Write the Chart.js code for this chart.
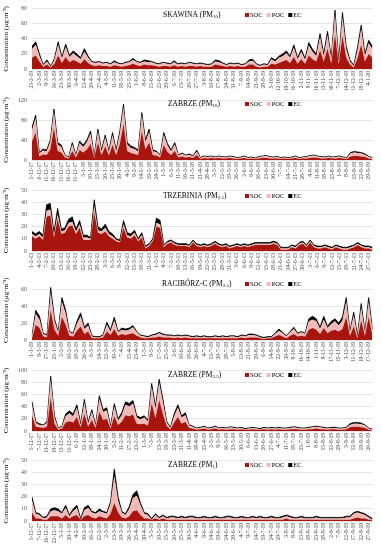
<!DOCTYPE html>
<html>
<head>
<meta charset="utf-8">
<script src="https://cdn.jsdelivr.net/npm/chart.js@4.4.1/dist/chart.umd.min.js"></script>
<style>
  html, body { margin: 0; padding: 0; background: #fff; }
  body { width: 381px; height: 550px; position: relative; overflow: hidden; }
  .panel { position: absolute; left: 0; width: 381px; }
</style>
</head>
<body>
<div class="panel" style="top:0px;height:90px"><canvas id="p1"></canvas></div>
<div class="panel" style="top:91px;height:90px"><canvas id="p2"></canvas></div>
<div class="panel" style="top:181px;height:91px"><canvas id="p3"></canvas></div>
<div class="panel" style="top:272px;height:89px"><canvas id="p4"></canvas></div>
<div class="panel" style="top:361px;height:91px"><canvas id="p5"></canvas></div>
<div class="panel" style="top:452px;height:92px"><canvas id="p6"></canvas></div>
<script>
// --- SKAWINA (PM10) ---
const skawinaTicks = ['23-2-19','2-3-19','9-3-19','16-3-19','23-3-19','30-3-19','6-4-19','13-4-19','20-4-19','27-4-19',
  '4-5-19','11-5-19','18-5-19','25-5-19','1-6-19','8-6-19','15-6-19','22-6-19','29-6-19','6-7-19',
  '13-7-19','20-7-19','27-7-19','3-8-19','10-8-19','17-8-19','24-8-19','31-8-19','7-9-19','14-9-19',
  '21-9-19','28-9-19','5-10-19','12-10-19','19-10-19','26-10-19','2-11-19','9-11-19','16-11-19','23-11-19',
  '30-11-19','7-12-19','14-12-19','21-12-19','28-12-19','4-1-20'];
const skawinaSOC = [15,18,10,3,6,2,7,18,8,16, 9,12,10,7,13,8,5,4,5,4, 4,3,5,4,3,4,5,7,5,4, 6,5,5,4,3,4,4,3,5,3,
  4,3,4,4,3,4,3,3,3,6, 5,4,3,4,3,4,3,3,6,6, 3,2,3,3,7,6,8,10,12,8, 16,7,13,7,18,13,10,25,10,27, 7,46,6,44,15,6,2,14,32,10, 20,15];
const skawinaPOC = [11,14,7,2,4,1,5,14,6,13, 7,9,7,6,10,7,4,4,4,3, 4,3,4,3,3,4,4,5,4,4, 4,4,4,3,3,4,3,3,4,3,
  3,3,4,3,3,3,3,2,3,4, 4,3,2,3,3,3,2,3,4,5, 3,2,3,2,6,4,7,7,9,7, 12,6,10,5,13,10,7,17,7,18, 6,26,4,25,11,4,2,10,21,7, 14,11];
const skawinaEC = [4,4,3,1,2,1,2,4,2,4, 2,3,3,2,4,2,1,1,1,1, 1,1,2,1,1,1,1,2,1,1, 2,2,1,1,1,1,1,1,2,1,
  1,1,1,1,1,1,1,1,1,2, 2,1,1,1,1,1,1,1,2,2, 1,1,1,1,2,2,2,3,3,2, 4,2,3,2,4,3,3,5,3,5, 2,6,2,6,4,2,1,4,5,3, 4,4];

// --- ZABRZE (PM10) ---
const zabrze10Ticks = ['1-12-17','6-12-17','11-12-17','16-12-17','21-12-17','26-12-17','31-12-17','5-1-18','10-1-18','15-1-18',
  '20-1-18','25-1-18','30-1-18','4-2-18','9-2-18','14-2-18','19-2-18','24-2-18','1-3-18','6-3-18',
  '11-3-18','16-3-18','21-3-18','21-4-19','28-4-19','5-5-19','12-5-19','19-5-19','26-5-19','2-6-19',
  '9-6-19','16-6-19','23-6-19','30-6-19','7-7-19','14-7-19','21-7-19','28-7-19','4-8-19','11-8-19',
  '18-8-19','25-8-19','1-9-19','8-9-19','15-9-19','22-9-19','29-9-19'];
const zabrze10SOC = [37,55,7,11,10,21,64,18,15,5, 3,18,5,20,15,21,32,4,35,10, 27,9,30,10,32,72,18,14,12,10, 58,21,35,10,9,5,30,16,10,18,
  5,7,5,6,4,10,2,4,3,4, 3,4,3,3,4,3,2,3,4,2, 3,2,3,4,4,3,3,3,2,3, 2,3,4,2,3,3,4,5,4,3, 3,4,3,3,4,3,2,7,8,8, 7,6,3,2];
const zabrze10POC = [22,29,6,8,7,15,32,13,11,4, 2,13,4,14,11,15,21,3,21,7, 18,7,20,7,21,34,13,10,10,7, 31,15,21,7,7,4,20,13,7,13,
  4,5,4,4,3,7,2,3,3,3, 2,3,3,2,3,3,2,2,3,2, 2,1,3,3,4,3,2,3,2,2, 2,2,3,2,2,3,4,4,3,3, 2,3,2,3,3,2,2,6,7,6, 6,4,3,2];
const zabrze10EC = [6,6,2,3,3,4,6,4,4,1, 1,4,1,4,4,4,5,1,6,3, 5,2,5,3,5,6,4,4,3,3, 6,4,6,3,2,1,5,4,3,4,
  1,2,1,2,1,3,1,1,1,1, 1,1,1,1,1,1,1,1,1,1, 1,1,1,1,1,1,1,1,1,1, 1,1,1,1,1,1,1,1,1,1, 1,1,1,1,1,1,1,2,2,2, 2,2,1,1];

// --- TRZEBINIA (PM2.5) ---
const trzebiniaTicks = ['1-2-13','4-2-13','7-2-13','10-2-13','13-2-13','16-2-13','19-2-13','22-2-13','25-2-13','28-2-13',
  '3-3-13','6-3-13','9-3-13','12-3-13','15-3-13','18-3-13','21-3-13','1-5-13','4-5-13','7-5-13',
  '10-5-13','13-5-13','16-5-13','19-5-13','22-5-13','25-5-13','28-5-13','31-5-13','3-6-13','6-6-13',
  '9-6-13','12-6-13','15-6-13','18-6-13','21-6-13','24-6-13','27-6-13','30-6-13','3-7-13','6-7-13',
  '9-7-13','12-7-13','15-7-13','18-7-13','21-7-13','24-7-13','27-7-13'];
const trzebiniaSOC = [12,10,12,9,28,29,11,26,14,15, 20,21,14,19,9,9,9,32,15,14, 16,12,10,8,7,19,11,10,13,8, 11,2,4,8,20,19,3,6,7,5,
  4,4,4,3,7,4,3,4,3,4, 6,4,3,4,2,3,4,3,4,3, 4,5,5,5,5,5,6,5,1,1, 1,3,2,5,6,3,7,3,2,2, 3,2,1,3,2,1,1,2,3,5, 3,2,2,1];
const trzebiniaPOC = [2,2,2,2,5,5,2,4,2,2, 3,3,2,3,2,2,1,5,2,2, 3,2,2,1,1,3,2,2,2,1, 2,1,1,1,3,3,1,1,1,1,
  1,1,1,1,1,1,1,1,1,1, 1,1,1,1,1,1,1,1,1,1, 1,1,1,1,1,1,1,1,1,1, 1,1,1,1,1,1,1,1,1,1, 1,1,1,1,1,1,1,1,1,1, 1,1,1,1];
const trzebiniaEC = [2,2,2,2,5,5,2,5,2,2, 3,4,2,3,2,2,1,5,3,2, 3,2,2,1,1,3,2,2,2,1, 2,1,1,1,4,3,1,1,1,1,
  1,1,1,1,1,1,1,1,1,1, 1,1,1,1,1,1,1,1,1,1, 1,1,1,1,1,1,1,1,1,1, 1,1,1,1,1,1,1,1,1,1, 1,1,1,1,1,1,1,1,1,1, 1,1,1,1];

// --- RACIBÓRZ-C (PM2.5) ---
const raciborzTicks = ['1-1-19','9-1-19','17-1-19','25-1-19','2-2-19','10-2-19','18-2-19','26-2-19','6-3-19','14-3-19',
  '22-3-19','30-3-19','7-4-19','15-4-19','23-4-19','1-5-19','9-5-19','17-5-19','25-5-19','2-6-19',
  '10-6-19','18-6-19','26-6-19','4-7-19','12-7-19','20-7-19','28-7-19','5-8-19','13-8-19','21-8-19',
  '29-8-19','6-9-19','14-9-19','22-9-19','30-9-19','8-10-19','16-10-19','24-10-19','1-11-19','9-11-19',
  '17-11-19','25-11-19','3-12-19','11-12-19','19-12-19','27-12-19'];
const raciborzSOC = [2,18,14,4,3,35,12,5,27,18, 5,4,11,16,7,10,2,2,2,3, 10,6,13,5,7,6,7,8,5,3, 2,2,3,3,4,3,3,3,2,3,
  2,3,2,2,2,2,2,2,2,2, 2,2,2,2,2,2,3,2,3,3, 3,2,1,2,2,4,6,4,2,5, 7,4,5,4,12,14,12,7,14,8, 11,12,10,13,27,5,16,2,23,5, 27,6];
const raciborzPOC = [2,13,10,3,2,21,10,4,18,13, 4,3,8,12,6,7,2,1,1,2, 8,4,10,4,5,5,5,7,4,2, 2,1,2,3,4,3,2,2,2,2,
  2,2,2,1,2,1,2,1,1,2, 1,2,1,2,2,1,2,2,3,3, 2,1,1,1,1,3,5,4,2,4, 6,3,4,3,10,10,10,6,10,6, 8,10,7,10,18,4,13,2,15,4, 18,5];
const raciborzEC = [1,4,4,1,1,6,3,1,5,4, 1,1,3,4,2,3,1,1,1,1, 3,2,4,1,2,2,2,2,1,1, 1,1,1,1,1,1,1,1,1,1,
  1,1,1,1,1,1,1,1,1,1, 1,1,1,1,1,1,1,1,1,1, 1,1,1,1,1,1,2,1,1,1, 2,1,1,1,3,4,3,2,4,2, 3,3,3,4,5,1,4,1,5,1, 5,2];

// --- ZABRZE (PM2.5) ---
const zabrze25Ticks = ['1-12-17','7-12-17','13-12-17','19-12-17','25-12-17','31-12-17','6-1-18','12-1-18','18-1-18','24-1-18',
  '30-1-18','5-2-18','11-2-18','17-2-18','23-2-18','1-3-18','7-3-18','13-3-18','19-3-18','25-3-18',
  '31-3-18','11-4-19','18-4-19','25-4-19','2-5-19','9-5-19','16-5-19','23-5-19','30-5-19','6-6-19',
  '13-6-19','20-6-19','27-6-19','4-7-19','11-7-19','18-7-19','25-7-19','1-8-19','8-8-19','15-8-19',
  '22-8-19','29-8-19','5-9-19','12-9-19','19-9-19','26-9-19'];
const zabrze25SOC = [26,7,6,5,7,55,12,2,4,14, 16,14,23,6,28,7,18,5,32,18, 20,4,24,10,15,26,24,27,12,11, 12,9,46,21,51,28,8,3,14,23,
  12,15,5,4,2,3,4,2,3,4, 2,3,2,3,3,2,3,2,2,3, 2,2,3,2,3,2,3,2,2,3, 3,3,2,2,3,3,4,3,3,2, 3,3,2,2,3,6,7,7,6,5, 2,1];
const zabrze25POC = [17,6,4,4,6,29,10,2,3,10, 13,10,15,4,19,5,13,4,21,13, 14,3,16,7,11,17,16,18,10,8, 10,7,26,15,28,19,6,2,10,15,
  10,11,4,3,2,2,3,2,2,3, 2,2,2,3,2,2,2,1,2,2, 2,1,2,2,2,2,2,2,2,2, 3,2,2,2,2,3,3,3,2,2, 2,2,2,2,2,4,5,5,5,4, 2,1];
const zabrze25EC = [5,2,2,1,2,6,3,1,1,4, 4,4,5,2,5,2,4,1,5,4, 4,1,5,3,4,5,5,5,3,3, 3,2,6,4,6,5,2,1,4,5,
  3,4,1,1,1,1,1,1,1,1, 1,1,1,1,1,1,1,1,1,1, 1,1,1,1,1,1,1,1,1,1, 1,1,1,1,1,1,1,1,1,1, 1,1,1,1,1,2,2,2,2,1, 1,1];

// --- ZABRZE (PM1) ---
const zabrze1Ticks = ['1-12-17','7-12-17','16-12-17','22-12-17','5-1-18','20-1-18','4-2-18','10-2-18','16-2-18','22-2-18',
  '2-3-18','13-3-18','19-3-18','26-3-18','25-4-19','30-4-19','5-5-19','10-5-19','15-5-19','20-5-19',
  '25-5-19','30-5-19','4-6-19','9-6-19','14-6-19','19-6-19','24-6-19','29-6-19','4-7-19','9-7-19',
  '14-7-19','19-7-19','24-7-19','29-7-19','3-8-19','8-8-19','13-8-19','18-8-19','23-8-19','28-8-19',
  '2-9-19','7-9-19','12-9-19','17-9-19','22-9-19','27-9-19'];
const zabrze1SOC = [7,2,2,1,1,4,4,4,2,5, 2,4,5,1,4,5,3,2,4,3, 2,6,15,7,3,2,4,8,9,5, 2,2,1,2,1,2,1,1,1,1,
  1,1,1,1,1,1,1,1,1,1, 1,1,1,1,1,1,1,1,1,1, 1,1,1,1,1,1,1,1,2,1, 1,1,1,1,1,1,1,1,1,1, 1,1,1,1,1,1,2,3,2,2, 1,1];
const zabrze1POC = [10,4,3,1,2,4,5,4,4,6, 2,4,6,0,5,6,4,4,4,4, 4,8,22,10,4,3,6,11,12,8, 4,3,0,3,1,2,1,2,2,1,
  2,1,2,2,1,1,2,1,1,2, 1,1,2,2,1,1,2,1,1,2, 1,2,1,1,2,1,1,2,2,2, 1,1,2,1,1,1,2,1,1,1, 1,1,1,1,2,2,4,4,4,3, 2,0];
const zabrze1EC = [3,1,1,1,1,2,2,2,1,2, 1,2,2,1,2,2,1,1,2,1, 1,2,6,3,1,1,2,3,4,2, 1,1,1,1,1,1,1,1,1,1,
  1,1,1,1,1,1,1,1,1,1, 1,1,1,1,1,1,1,1,1,1, 1,1,1,1,1,1,1,1,1,1, 1,1,1,1,1,1,1,1,1,1, 1,1,1,1,1,1,1,1,1,1, 1,1];

const SOC_COLOR = '#a8150f';
const POC_COLOR = '#f1b9b7';
const EC_COLOR = '#000000';
const SERIF = '"Liberation Serif", "Times New Roman", serif';

// one tick label every second sample
function categories(ticks) {
  const out = [];
  ticks.forEach(t => { out.push(t, ''); });
  return out;
}

const panelTitle = {
  id: 'panelTitle',
  afterDraw(chart, args, o) {
    const ctx = chart.ctx;
    ctx.save();
    ctx.fillStyle = '#000';
    ctx.textBaseline = 'middle';
    let x = o.x;
    const y = o.y;
    ctx.font = '7.5px ' + SERIF;
    const head = o.name + ' (PM';
    ctx.fillText(head, x, y);
    x += ctx.measureText(head).width;
    ctx.font = '5px ' + SERIF;
    ctx.fillText(o.sub, x, y + 2);
    x += ctx.measureText(o.sub).width;
    ctx.font = '7.5px ' + SERIF;
    ctx.fillText(')', x, y);

    // legend
    let lx = 245;
    ctx.font = '6.5px ' + SERIF;
    chart.data.datasets.forEach(ds => {
      ctx.fillStyle = ds.backgroundColor;
      ctx.fillRect(lx, y - 2, 4, 4);
      ctx.fillStyle = '#000';
      ctx.fillText(ds.label, lx + 5, y);
      lx += 5 + ctx.measureText(ds.label).width + 4;
    });
    ctx.restore();
  }
};

function makePanel(id, ticks, soc, poc, ec, opt) {
  new Chart(document.getElementById(id), {
    type: 'line',
    data: {
      labels: categories(ticks),
      datasets: [
        { label: 'SOC', data: soc, backgroundColor: SOC_COLOR, borderColor: 'rgba(0,0,0,0)', borderWidth: 0, fill: 'origin' },
        { label: 'POC', data: poc, backgroundColor: POC_COLOR, borderColor: 'rgba(0,0,0,0)', borderWidth: 0, fill: '-1' },
        { label: 'EC', data: ec, backgroundColor: EC_COLOR, borderColor: EC_COLOR, borderWidth: 0.8, fill: '-1' },
      ],
    },
    options: {
      responsive: true,
      maintainAspectRatio: false,
      animation: false,
      layout: { padding: { top: opt.top, left: 2, right: 4, bottom: 0 } },
      elements: { point: { radius: 0 }, line: { tension: 0 } },
      plugins: {
        legend: { display: false },
        tooltip: { enabled: false },
        panelTitle: { x: opt.tx, y: opt.ty, name: opt.name, sub: opt.sub },
      },
      scales: {
        x: {
          offset: false,
          grid: { display: false, drawTicks: false },
          border: { display: false },
          ticks: {
            autoSkip: false,
            maxRotation: 90,
            minRotation: 90,
            padding: 2,
            color: '#404040',
            font: { family: SERIF, size: 5.5 },
          },
          afterFit: (s) => { s.height = opt.xh; },
        },
        y: {
          stacked: true,
          min: 0,
          max: opt.max,
          ticks: { stepSize: opt.step, padding: 5, color: '#595959', font: { family: SERIF, size: 6 } },
          grid: { color: '#d9d9d9', lineWidth: 0.7, drawTicks: false },
          border: { display: false },
          title: {
            display: true,
            text: 'Concentration (µg·m⁻³)',
            color: '#000',
            font: { family: SERIF, size: 7 },
            padding: { top: 0, bottom: 0 },
          },
          afterFit: (s) => { s.width = 30; },
        },
      },
    },
    plugins: [panelTitle],
  });
}

makePanel('p1', skawinaTicks, skawinaSOC, skawinaPOC, skawinaEC,
  { top: 7, xh: 21, max: 80, step: 20, tx: 163, ty: 15, name: 'SKAWINA', sub: '10' });
makePanel('p2', zabrze10Ticks, zabrze10SOC, zabrze10POC, zabrze10EC,
  { top: 9, xh: 21, max: 120, step: 20, tx: 168, ty: 13, name: 'ZABRZE', sub: '10' });
makePanel('p3', trzebiniaTicks, trzebiniaSOC, trzebiniaPOC, trzebiniaEC,
  { top: 9, xh: 21, max: 50, step: 10, tx: 163, ty: 15, name: 'TRZEBINIA', sub: '2.5' });
makePanel('p4', raciborzTicks, raciborzSOC, raciborzPOC, raciborzEC,
  { top: 6, xh: 21, max: 70, step: 10, tx: 162, ty: 12, name: 'RACIBÓRZ-C', sub: '2.5' });
makePanel('p5', zabrze25Ticks, zabrze25SOC, zabrze25POC, zabrze25EC,
  { top: 9, xh: 21, max: 100, step: 20, tx: 168, ty: 14, name: 'ZABRZE', sub: '2.5' });
makePanel('p6', zabrze1Ticks, zabrze1SOC, zabrze1POC, zabrze1EC,
  { top: 8, xh: 23, max: 50, step: 10, tx: 168, ty: 13, name: 'ZABRZE', sub: '1' });
</script>
</body>
</html>
